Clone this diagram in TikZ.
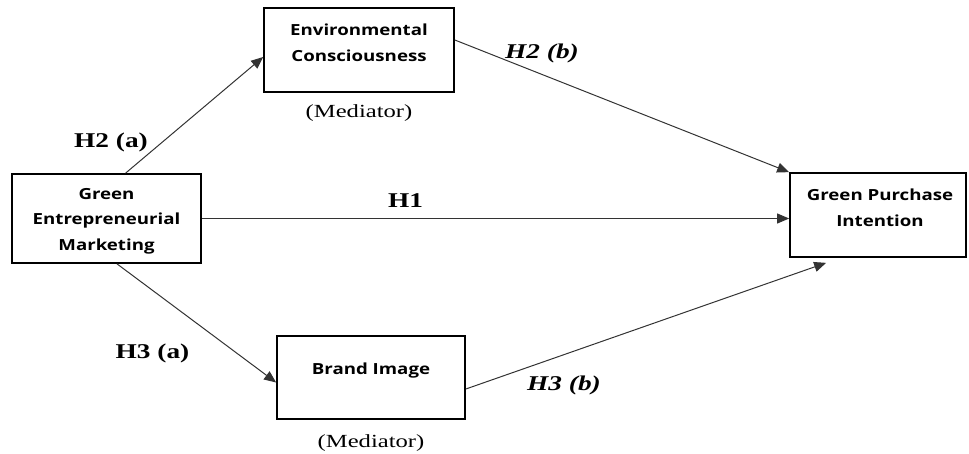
\documentclass[tikz,border=0pt]{standalone}
\usepackage{fontspec}
\setmainfont{Liberation Serif}
\newfontfamily\boxfont{Open Sans}
\usetikzlibrary{arrows.meta,calc}
\newcommand\hxb[1]{\scalebox{1.22}[1]{#1}}
\newcommand\hxl[1]{\scalebox{1.3}[1]{#1}}
\begin{document}
\begin{tikzpicture}[x=1pt,y=-1pt,
  box/.style={draw=black, line width=1.7pt, inner sep=0pt},
  boxtext/.style={font=\boxfont\bfseries\fontsize{15.3}{25.5}\selectfont, align=center, inner sep=0pt},
  hyp/.style={font=\bfseries\fontsize{21}{24}\selectfont, inner sep=0pt, anchor=base},
  hypi/.style={font=\bfseries\itshape\fontsize{21}{24}\selectfont, inner sep=0pt, anchor=base},
  med/.style={font=\fontsize{18.5}{22}\selectfont, inner sep=0pt, anchor=base},
  conn/.style={draw=black!80, line width=1pt, -{Triangle[length=12pt,width=10pt]}}
]
\useasboundingbox (0,0) rectangle (969,453);

% boxes
\node[box, minimum width=190pt, minimum height=84pt] (ec) at (359,50) {};
\node[box, minimum width=189pt, minimum height=89pt] (gem) at (106.5,218.5) {};
\node[box, minimum width=176pt, minimum height=84pt] (gpi) at (878,215) {};
\node[box, minimum width=188pt, minimum height=83pt] (bi) at (371,377.5) {};

% box texts
\node[boxtext] (ect) at (359,43) {\hxb{Environmental}\\\hxb{Consciousness}};
\node[boxtext] (gemt) at (106.5,221) {\hxb{Green}\\\hxb{Entrepreneurial}\\\hxb{Marketing}};
\node[boxtext] (gpit) at (880,208) {\hxb{Green Purchase}\\\hxb{Intention}};
\node[boxtext] (bit) at (371,371) {\hxb{Brand Image}};

% mediator labels
\node[med] (ecm) at (359,117) {\scalebox{1.33}[1]{(Mediator)}};
\node[med] (bim) at (371,447) {\scalebox{1.33}[1]{(Mediator)}};

% connectors
\draw[conn] ($(gem.north west)!0.6!(gem.north east)$) -- ($(ec.west)+(0,7)$);
\draw[conn] (gem.east) -- (gem.east -| gpi.west);
\draw[conn] ($(gem.south west)!0.555!(gem.south east)$) -- ($(bi.west)+(0,5)$);
\draw[conn] ($(ec.east)+(0,-10)$) -- (gpi.north west);
\draw[conn] ($(bi.east)+(0,11.5)$) -- ($(gpi.south west)+(37,5)$);

% hypothesis labels
\node[hyp] (h2a) at (111,147) {\hxl{H2 (a)}};
\node[hypi] (h2b) at (542,58) {\hxl{H2 (b)}};
\node[hyp] (h1) at (405.5,207) {\hxl{H1}};
\node[hyp] (h3a) at (152.5,358) {\hxl{H3 (a)}};
\node[hypi] (h3b) at (564,390) {\hxl{H3 (b)}};
\end{tikzpicture}
\end{document}
